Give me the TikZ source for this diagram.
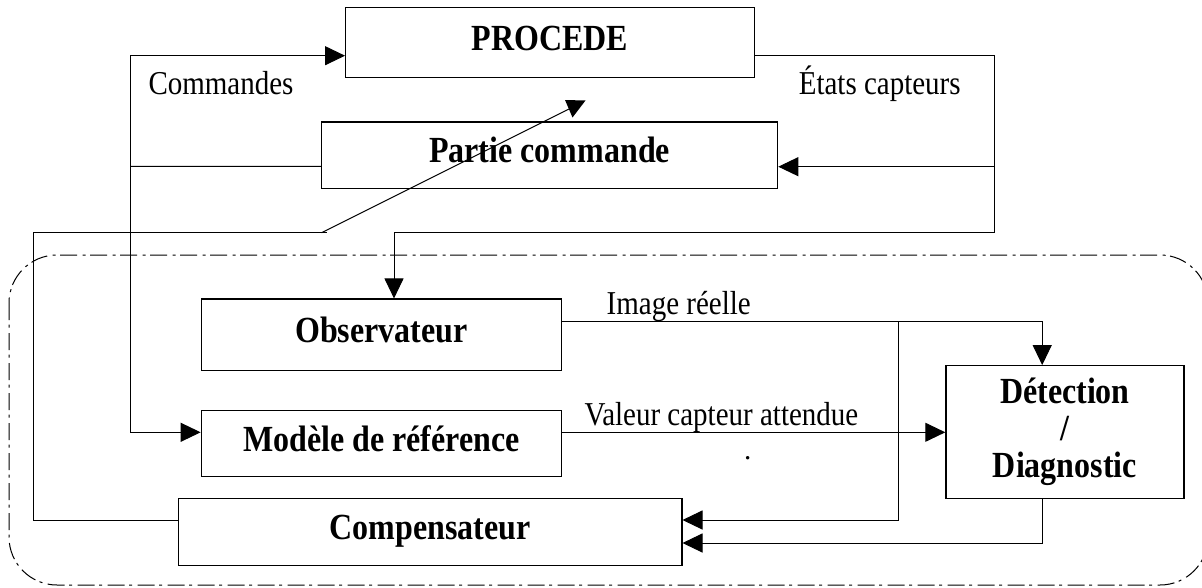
\documentclass[tikz,border=0pt]{standalone}
\usepackage{fontspec}
\setmainfont{Liberation Serif}
\usetikzlibrary{arrows.meta}
\newcommand{\tx}[1]{\scalebox{1}[1.15]{#1}}
\begin{document}
\begin{tikzpicture}[x=1pt,y=-1pt,
  box/.style={draw, line width=1.2pt, inner sep=0pt, font=\fontsize{32}{37}\selectfont\bfseries, text height=27pt, text depth=12pt},
  detbox/.style={draw, line width=1.2pt, inner sep=0pt, align=center, font=\fontsize{32}{37}\selectfont\bfseries},
  lbl/.style={font=\fontsize{29}{34}\selectfont, inner sep=0pt, anchor=base},
  conn/.style={line width=1pt},
  arr/.style={conn, -{Triangle[length=20pt,width=19pt]}},
  region/.style={line width=1pt, dash pattern=on 17pt off 4.5pt on 3pt off 5.5pt, rounded corners=48pt}]
\useasboundingbox (0,0) rectangle (1202,587);

% region
\draw[region] (9,255) rectangle (1208,585);

% boxes
\node[box, minimum width=408.7pt, minimum height=70.4pt] (proc) at (550,42.5) {\tx{PROCEDE}};
\node[box, minimum width=456.2pt, minimum height=66.7pt] (pc) at (549.6,155.4) {\tx{Partie commande}};
\node[box, minimum width=360.5pt, minimum height=71.3pt] (obs) at (381.5,334.7) {\tx{Observateur}};
\node[box, minimum width=360.5pt, minimum height=66.4pt] (mod) at (381.5,443.5) {\tx{Modèle de référence}};
\node[box, minimum width=503.8pt, minimum height=67pt] (comp) at (430,532.2) {\tx{Compensateur}};
\node[detbox, minimum width=238pt, minimum height=133pt] (det) at (1064.9,432.2) {\tx{Détection}\\\tx{/}\\\tx{Diagnostic}};

% labels
\node[lbl] (lcmd) at (221,94) {\tx{Commandes}};
\node[lbl] (letat) at (879.7,94) {\tx{États capteurs}};
\node[lbl] (limg) at (678.7,314.3) {\tx{Image réelle}};
\node[lbl] (lval) at (721.4,425) {\tx{Valeur capteur attendue}};
\node[lbl] (ldot) at (747.8,459) {.};

% commandes
\coordinate (cj) at (130,166.3);
\draw[conn] ([yshift=-10.9pt]pc.west) -- (cj);
\draw[arr] (cj) |- ([yshift=-13.2pt]proc.west);
\draw[arr] (cj) |- ([yshift=11.2pt]mod.west);

% etats capteurs
\coordinate (ea) at (994,166.7);
\coordinate (eb) at (994,232.7);
\draw[arr] ([yshift=-13.2pt]proc.east) -| (eb) -| ([xshift=12.5pt]obs.north);
\draw[arr] (ea) -- (ea -| pc.east);

% compensateur feedback
\coordinate (fa) at (33.7,232.7);
\coordinate (fb) at (327,232.7);
\coordinate (fc) at (321.5,232.7);
\coordinate (ft) at (571,108);
\draw[conn] ([yshift=12.2pt]comp.west) -| (fa) -- (fb);
\draw[conn] (fc) -- (ft);
\fill (565,100) -- (585.5,100.5) -- (572.5,117.5) -- cycle;

% image reelle
\draw[arr] ([yshift=13.7pt]obs.east) -| ([xshift=-22.7pt]det.north);
\coordinate (ib) at (898.3,321);
\draw[arr] (ib) |- ([yshift=12.2pt]comp.east);

% valeur attendue
\path ([yshift=11.2pt]mod.east) coordinate (va);
\draw[arr] (va) -- (va -| det.west);

% diagnostic to compensateur
\draw[arr] ([xshift=-22.7pt]det.south) |- ([yshift=-10.8pt]comp.east);
\end{tikzpicture}
\end{document}
